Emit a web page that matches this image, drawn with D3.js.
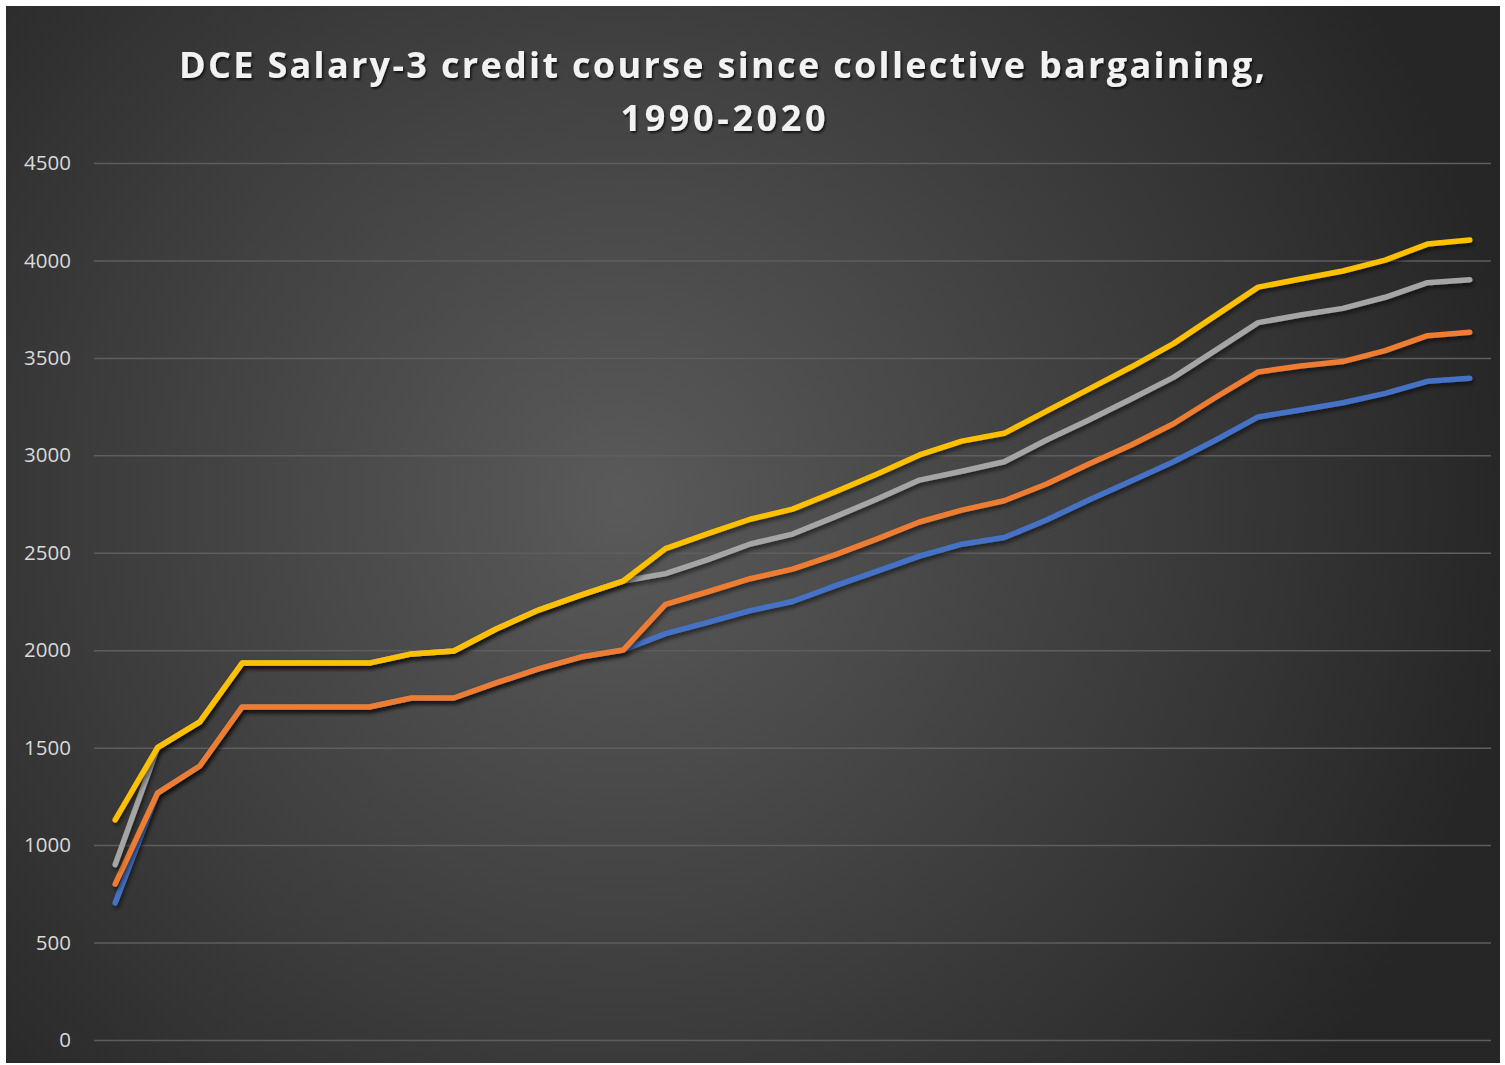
<!DOCTYPE html>
<html>
<head>
<meta charset="utf-8">
<script src="https://cdn.jsdelivr.net/npm/d3@7"></script>
<style>
  html, body { margin: 0; padding: 0; background: #ffffff; }
  svg { display: block; }
</style>
</head>
<body>
<script>
var w = 1505;
var h = 1065;

// categories: one point per contract step (no axis labels shown in the chart)
var steps = d3.range(1, 34).map(String);

// series values, dollars per 3 credit course
var blueVals   = [703, 1267, 1406, 1709, 1709, 1709, 1709, 1755, 1755, 1832, 1904, 1965, 2001, 2085, 2143, 2203, 2250, 2330, 2406, 2483, 2544, 2578, 2668, 2771, 2868, 2967, 3079, 3197, 3233, 3270, 3318, 3380, 3395];
var orangeVals = [800, 1267, 1406, 1709, 1709, 1709, 1709, 1755, 1755, 1832, 1904, 1965, 2001, 2235, 2300, 2367, 2416, 2489, 2571, 2658, 2719, 2767, 2853, 2956, 3053, 3162, 3298, 3428, 3458, 3481, 3537, 3614, 3631];
var grayVals   = [900, 1500, 1632, 1934, 1934, 1934, 1934, 1981, 1996, 2109, 2206, 2283, 2355, 2393, 2465, 2545, 2596, 2684, 2776, 2873, 2918, 2967, 3079, 3181, 3289, 3400, 3540, 3681, 3720, 3754, 3811, 3886, 3901];
var yellowVals = [1130, 1500, 1632, 1934, 1934, 1934, 1934, 1981, 1996, 2109, 2206, 2283, 2355, 2521, 2598, 2672, 2724, 2812, 2904, 3002, 3073, 3113, 3227, 3340, 3453, 3573, 3718, 3863, 3905, 3946, 4002, 4084, 4105];

var seriesColors = ["#4472C4", "#ED7D31", "#A5A5A5", "#FFC000"];
var yTicks = [0, 500, 1000, 1500, 2000, 2500, 3000, 3500, 4000, 4500];

var titleLines = ["DCE Salary-3 credit course since collective bargaining,", "1990-2020"];

var series = [blueVals, orangeVals, grayVals, yellowVals];

var svg = d3.select("body")
    .append("svg")
    .attr("width", w)
    .attr("height", h);

var defs = svg.append("defs");

//dark radial background like the Excel style
var grad = defs.append("radialGradient")
    .attr("id", "bg")
    .attr("gradientUnits", "userSpaceOnUse")
    .attr("cx", 620).attr("cy", 500).attr("r", 900);
grad.append("stop").attr("offset", "0%").attr("stop-color", "#5a5a5a");
grad.append("stop").attr("offset", "55%").attr("stop-color", "#3e3e3e");
grad.append("stop").attr("offset", "100%").attr("stop-color", "#262626");

//shadow under the lines
defs.append("filter")
    .attr("id", "shadow")
    .attr("x", "-5%").attr("y", "-5%").attr("width", "110%").attr("height", "110%")
    .append("feDropShadow")
    .attr("dx", 1.5).attr("dy", 3)
    .attr("stdDeviation", 2)
    .attr("flood-color", "#000")
    .attr("flood-opacity", 0.55);

defs.append("filter")
    .attr("id", "tshadow")
    .append("feDropShadow")
    .attr("dx", 1.5).attr("dy", 2)
    .attr("stdDeviation", 1.2)
    .attr("flood-color", "#000")
    .attr("flood-opacity", 0.7);

svg.append("rect")
    .attr("x", 6).attr("y", 6)
    .attr("width", 1494).attr("height", 1057)
    .attr("fill", "url(#bg)");

//scales
var x = d3.scaleBand()
    .domain(steps)
    .range([94, 1491]);

var y = d3.scaleLinear()
    .domain([0, 4500])
    .range([1040, 163]);

//gridlines and y labels
var yAxis = svg.append("g")
    .attr("transform", "translate(94,0)")
    .call(d3.axisLeft(y)
        .tickValues(yTicks)
        .tickSize(-(1491 - 94))
        .tickPadding(23)
        .tickFormat(d3.format("d")));

yAxis.select(".domain").remove();
yAxis.selectAll(".tick line")
    .attr("stroke", "#5e5e5e")
    .attr("stroke-width", 1.5);
yAxis.selectAll(".tick text")
    .attr("fill", "#d9d9d9")
    .attr("font-family", "'Open Sans', sans-serif")
    .attr("font-size", 20.5);

//lines
var line = d3.line()
    .x(function(d, i) { return x(steps[i]) + x.bandwidth() / 2; })
    .y(function(d) { return y(d); });

svg.selectAll(".series")
    .data(series)
    .enter()
    .append("path")
    .attr("class", "series")
    .attr("d", line)
    .attr("fill", "none")
    .attr("stroke", function(d, i) { return seriesColors[i]; })
    .attr("stroke-width", 5.5)
    .attr("stroke-linejoin", "round")
    .attr("stroke-linecap", "round")
    .attr("filter", "url(#shadow)");

//title
var title = svg.append("text")
    .attr("text-anchor", "middle")
    .attr("fill", "#f2f2f2")
    .attr("font-family", "'Open Sans', sans-serif")
    .attr("font-weight", "bold")
    .attr("font-size", 36)
    .attr("filter", "url(#tshadow)");

title.append("tspan")
    .attr("x", 722).attr("y", 78)
    .attr("textLength", 1086)
    .attr("lengthAdjust", "spacing")
    .text(titleLines[0]);

title.append("tspan")
    .attr("x", 723).attr("y", 131)
    .attr("textLength", 205)
    .attr("lengthAdjust", "spacing")
    .text(titleLines[1]);
</script>
</body>
</html>
